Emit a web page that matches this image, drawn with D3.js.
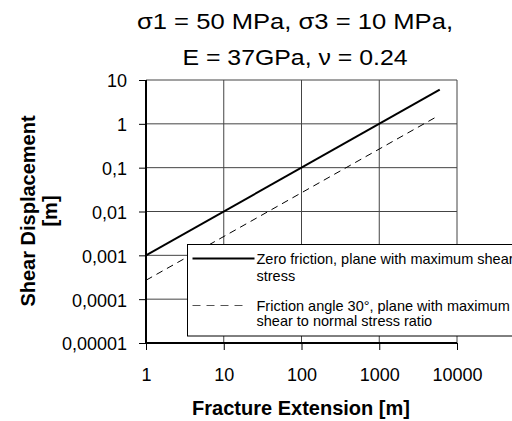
<!DOCTYPE html>
<html>
<head>
<meta charset="utf-8">
<script src="https://cdn.jsdelivr.net/npm/d3@7"></script>
<style>
  body { margin: 0; background: #fff; }
  svg text { font-family: Arial, "Liberation Sans", sans-serif; fill: #000; }
</style>
</head>
<body>
<svg id="chart"></svg>
<script>
const width = 512, height = 421;

// data
const xTicks = [1, 10, 100, 1000, 10000];
const yTicks = [0.00001, 0.0001, 0.001, 0.01, 0.1, 1, 10];
const yTickLabels = ["0,00001", "0,0001", "0,001", "0,01", "0,1", "1", "10"];
const zeroFrictionX = [1, 6000];
const zeroFrictionY = [0.001, 6];
const frictionX = [1, 5500];
const frictionY = [0.00027, 1.46];
const titleLines = ["\u03C31 = 50 MPa, \u03C33 = 10 MPa,", "E = 37GPa, \u03BD = 0.24"];
const legendLabels = [
    ["Zero friction, plane with maximum shear", "stress"],
    ["Friction angle 30\u00B0, plane with maximum", "shear to normal stress ratio"]
];

const margin = { left: 146, top: 80, right: 512 - 457, bottom: 421 - 343 };

const svg = d3.select("#chart")
    .attr("width", width)
    .attr("height", height);

const x = d3.scaleLog().domain([1, 10000]).range([margin.left, width - margin.right]);
const y = d3.scaleLog().domain([0.00001, 10]).range([height - margin.bottom, margin.top]);

// grid
svg.append("g").selectAll("line")
    .data(xTicks.slice(1))
    .enter().append("line")
    .attr("x1", d => x(d)).attr("x2", d => x(d))
    .attr("y1", y(10)).attr("y2", y(0.00001))
    .attr("stroke", "#444").attr("stroke-width", 1);

svg.append("g").selectAll("line")
    .data(yTicks.slice(1))
    .enter().append("line")
    .attr("x1", x(1)).attr("x2", x(10000))
    .attr("y1", d => y(d)).attr("y2", d => y(d))
    .attr("stroke", "#444").attr("stroke-width", 1);

// axes
const xAxis = d3.axisBottom(x).tickValues(xTicks).tickFormat(d3.format("d")).tickSize(7).tickPadding(18);
const yAxis = d3.axisLeft(y).tickValues(yTicks).tickFormat((d, i) => yTickLabels[i]).tickSize(7).tickPadding(12);

const gx = svg.append("g")
    .attr("transform", `translate(0,${y(0.00001)})`)
    .call(xAxis);
const gy = svg.append("g")
    .attr("transform", `translate(${x(1)},0)`)
    .call(yAxis);

[gx, gy].forEach(g => {
    g.select(".domain").attr("stroke", "#000").attr("stroke-width", 2);
    g.selectAll(".tick line").attr("stroke", "#000").attr("stroke-width", 1);
    g.selectAll(".tick text").style("font-size", "18px").attr("fill", "#000");
});
gy.selectAll(".tick text").attr("dy", "0.38em");
gx.select(".domain").attr("d", `M${x(1)},0H${x(10000)}`);
gy.select(".domain").attr("d", `M0,${y(0.00001)}V${y(10)}`);

// series
const line = d3.line().x(d => x(d[0])).y(d => y(d[1]));

svg.append("path")
    .datum(d3.zip(frictionX, frictionY))
    .attr("d", line)
    .attr("fill", "none")
    .attr("stroke", "#000")
    .attr("stroke-width", 1)
    .attr("stroke-dasharray", "7,5");

svg.append("path")
    .datum(d3.zip(zeroFrictionX, zeroFrictionY))
    .attr("d", line)
    .attr("fill", "none")
    .attr("stroke", "#000")
    .attr("stroke-width", 2);

// legend (runs off the right edge like the original)
const legend = svg.append("g").attr("transform", "translate(187.5,244.5)");
legend.append("rect")
    .attr("width", 340).attr("height", 91.5)
    .attr("fill", "#fff").attr("stroke", "#000").attr("stroke-width", 1);
legend.append("line")
    .attr("x1", 5).attr("x2", 67).attr("y1", 14).attr("y2", 14)
    .attr("stroke", "#000").attr("stroke-width", 2);
legend.append("line")
    .attr("x1", 5).attr("x2", 60).attr("y1", 61).attr("y2", 61)
    .attr("stroke", "#555").attr("stroke-width", 1).attr("stroke-dasharray", "8,6");

const legendRows = legend.selectAll("text.leg")
    .data(legendLabels)
    .enter().append("text")
    .attr("class", "leg")
    .style("font-size", "14.5px");
legendRows.append("tspan").attr("x", 69).attr("y", (d, i) => 19 + i * 47).text(d => d[0]);
legendRows.append("tspan").attr("x", 69).attr("y", (d, i) => 36 + i * 45).text(d => d[1]);

// titles
const titleWidths = [316, 225];
svg.selectAll("text.title")
    .data(titleLines)
    .enter().append("text")
    .attr("class", "title")
    .attr("x", 295)
    .attr("y", (d, i) => 29 + i * 36)
    .attr("text-anchor", "middle")
    .attr("textLength", (d, i) => titleWidths[i])
    .attr("lengthAdjust", "spacingAndGlyphs")
    .style("font-size", "22px")
    .text(d => d);

svg.append("text")
    .attr("x", 301).attr("y", 415)
    .attr("text-anchor", "middle")
    .style("font-size", "20px").style("font-weight", "bold")
    .text("Fracture Extension [m]");

const yl = svg.append("text")
    .attr("transform", "translate(0,211) rotate(-90)")
    .attr("text-anchor", "middle")
    .style("font-size", "20px").style("font-weight", "bold");
yl.append("tspan").attr("x", 0).attr("y", 35).text("Shear Displacement");
yl.append("tspan").attr("x", 0).attr("y", 57).text("[m]");
</script>
</body>
</html>
